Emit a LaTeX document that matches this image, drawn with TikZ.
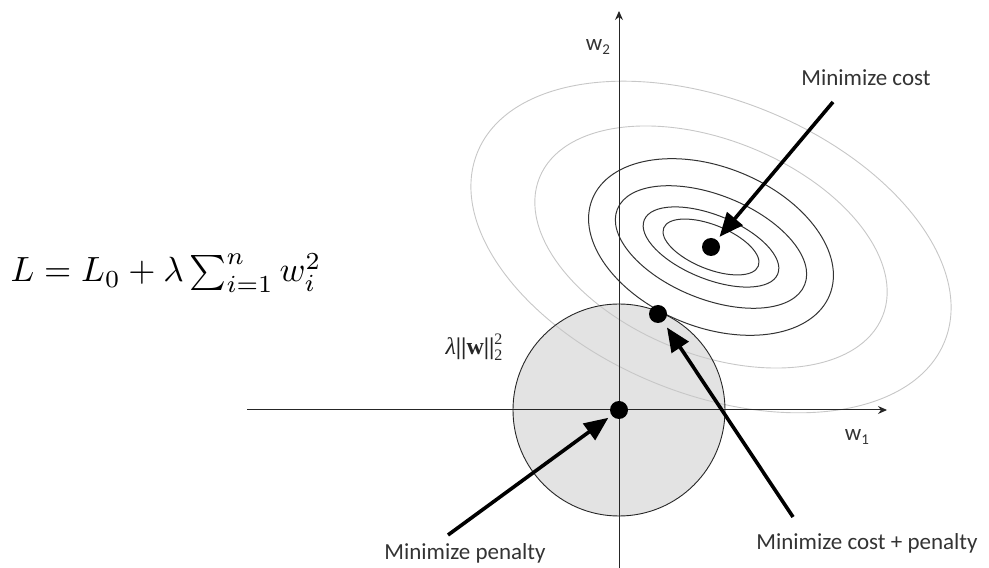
\documentclass[tikz,border=0pt]{standalone}
\usepackage{amsmath}
\usepackage{fontspec}
\setmainfont{Carlito}
\newfontfamily\libserif{Liberation Serif}
\usetikzlibrary{arrows.meta}
\begin{document}
\begin{tikzpicture}[x=1pt,y=1pt,
  axis/.style={draw=black!85, line width=1pt, -{Stealth[length=9pt,width=8pt]}},
  lightell/.style={draw=black!22, line width=0.9pt},
  darkell/.style={draw=black!80, line width=1pt},
  dot/.style={circle, fill=black, inner sep=0pt, minimum size=18pt},
  bigarrow/.style={line width=3.6pt, -{Triangle[length=24pt,width=20pt]}},
  lbl/.style={font=\fontsize{23}{26}\selectfont, text=black!80, inner sep=0pt}]
\useasboundingbox (0,0) rectangle (989,568);
% origin and constraint region
\coordinate (O) at (619,158);
\fill[black!11] (O) circle [radius=106];
% contours of the cost
\begin{scope}[shift={(711,321)}, rotate=-22]
  \draw[lightell] (0,0) ellipse [x radius=252, y radius=147];
  \draw[lightell] (0,0) ellipse [x radius=185, y radius=107];
  \draw[darkell] (0,0) ellipse [x radius=128, y radius=80];
  \draw[darkell] (0,0) ellipse [x radius=101, y radius=52];
  \draw[darkell] (0,0) ellipse [x radius=72, y radius=32];
  \draw[darkell] (0,0) ellipse [x radius=51, y radius=22];
\end{scope}
\draw[black!85, line width=0.9pt] (O) circle [radius=106];
% axes
\coordinate (xs) at (247,158);
\coordinate (xe) at (887,158);
\coordinate (ys) at (619,0);
\coordinate (ye) at (619,557);
\draw[axis] (xs) -- (xe);
\draw[axis] (ys) -- (ye);
\node[lbl] (w1) at (857,131) {w\raisebox{-0.35ex}{\fontsize{15}{17}\selectfont 1}};
\node[lbl] (w2) at (598,521) {w\raisebox{-0.35ex}{\fontsize{15}{17}\selectfont 2}};
% points
\node[dot] (C) at (711,321) {};
\node[dot] (P) at (658,254) {};
\node[dot] (Z) at (O) {};
% labels
\node[lbl] (lc) at (866,490) {Minimize cost};
\node[lbl] (lcp) at (867,25) {Minimize cost + penalty};
\node[lbl] (lp) at (465,15) {Minimize penalty};
\coordinate (tc) at (833,466);
\coordinate (tcp) at (793,51);
\coordinate (tp) at (448,33);
\draw[bigarrow, shorten >=4pt] (tc) -- (C);
\draw[bigarrow, shorten >=7pt] (tcp) -- (P);
\draw[bigarrow, shorten >=4pt] (tp) -- (Z);
% penalty label
\node[inner sep=0pt, text=black!85, font=\libserif\fontsize{24}{27}\selectfont] (pen) at (474,221)
  {\textit{λ}\textbf{||w||}\rlap{\raisebox{0.95ex}{\fontsize{16}{18}\selectfont 2}}\raisebox{-0.5ex}{\fontsize{16}{18}\selectfont 2}};
% formula
\node[anchor=base west, inner sep=0pt, scale=3.5] (eq) at (10,286)
  {$L = L_0 + \lambda \sum_{i=1}^{n} w_i^2$};
\end{tikzpicture}
\end{document}
